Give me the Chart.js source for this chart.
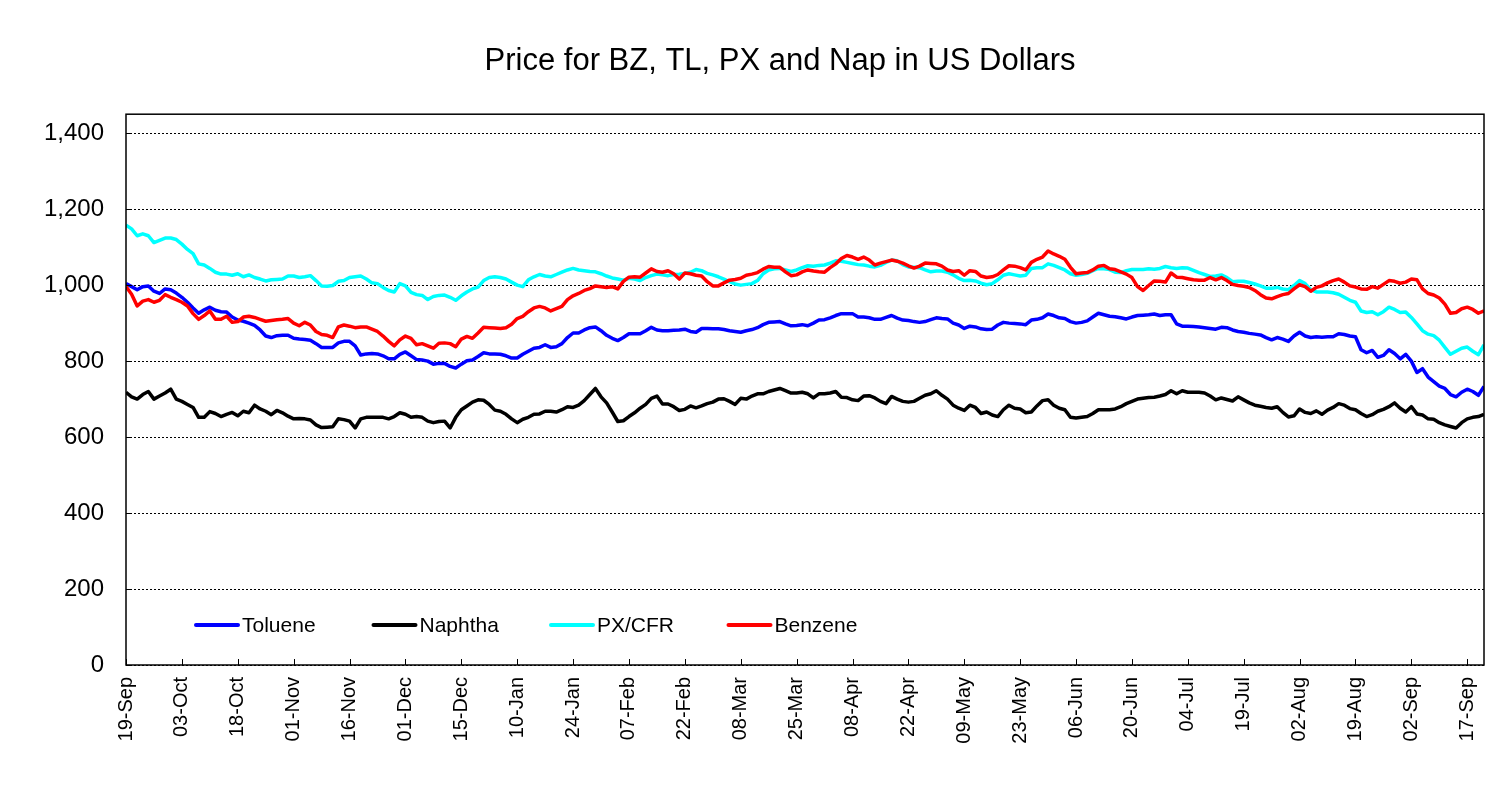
<!DOCTYPE html>
<html>
<head>
<meta charset="utf-8">
<title>Price for BZ, TL, PX and Nap in US Dollars</title>
<script src="https://cdn.jsdelivr.net/npm/chart.js@4.4.1/dist/chart.umd.min.js"></script>
<style>
    body { margin: 0; background: #ffffff; }
    #chartPrecos { display: block; }
</style>
</head>
<body>
<canvas id="chartPrecos" width="1511" height="802"></canvas>
<script>
// rótulos do eixo x, um a cada 10 pontos
const tickLabels = ['19-Sep', '03-Oct', '18-Oct', '01-Nov', '16-Nov', '01-Dec', '15-Dec', '10-Jan', '24-Jan',
    '07-Feb', '22-Feb', '08-Mar', '25-Mar', '08-Apr', '22-Apr', '09-May', '23-May', '06-Jun', '20-Jun',
    '04-Jul', '19-Jul', '02-Aug', '19-Aug', '02-Sep', '17-Sep'];

const seriesNames = ['Toluene', 'Naphtha', 'PX/CFR', 'Benzene'];

const toluene = [
    1004, 996, 988, 996, 998, 984, 978, 990, 988, 979,
    968, 955, 940, 926, 935, 942, 934, 930, 929, 916,
    908, 905, 900, 894, 882, 866, 862, 867, 868, 868,
    860, 858, 857, 855, 846, 836, 836, 836, 848, 852,
    852, 840, 816, 819, 820, 819, 814, 806, 806, 818,
    824, 814, 804, 803, 800, 792, 794, 794, 786, 782,
    792, 801, 803, 812, 822, 819, 819, 818, 814, 808,
    808, 818, 826, 834, 836, 843, 836, 838, 846, 862,
    874, 874, 882, 888, 890, 880, 868, 860, 854, 862,
    872, 872, 872, 880, 889, 882, 880, 880, 881, 882,
    884, 878, 876, 886, 886, 885, 885, 883, 880, 878,
    876, 880, 883, 888, 896, 902, 903, 904, 898, 893,
    894, 896, 893, 900, 908, 909, 914, 920, 925, 925,
    925, 916, 916, 914, 910, 910, 915, 920, 913, 908,
    907, 904, 902, 904, 909, 914, 912, 911, 900, 895,
    886, 892, 890, 885, 883, 884, 895, 902, 900, 899,
    898, 896, 908, 910, 914, 924, 920, 914, 912, 904,
    900, 902, 906, 916, 926, 922, 918, 917, 914, 911,
    916, 920, 921, 922, 924, 920, 922, 922, 898, 892,
    892, 891, 890, 888, 886, 884, 889, 888, 882, 878,
    876, 873, 871, 869, 862, 856, 862, 858, 852, 866,
    876, 866, 862, 864, 863, 864, 864, 872, 870, 866,
    864, 830, 822, 828, 810, 815, 830, 820, 806, 818,
    800, 770, 780, 758, 746, 734, 728, 712, 706, 718,
    726, 720, 710, 733
];

const naphtha = [
    718, 706, 700, 712, 720, 700, 708, 716, 726, 700,
    694, 686, 678, 652, 652, 667, 662, 654, 660, 665,
    656, 668, 664, 684, 674, 668, 659, 670, 664, 655,
    648, 649, 648, 645, 632, 625, 626, 627, 648, 646,
    642, 624, 648, 652, 652, 652, 652, 648, 654, 664,
    660, 652, 654, 652, 642, 638, 641, 642, 624, 652,
    672, 682, 692, 698, 697, 686, 671, 668, 660, 648,
    638, 647, 652, 660, 661, 668, 668, 666, 672, 680,
    678, 684, 696, 712, 728, 706, 690, 666, 641, 643,
    654, 664, 676, 686, 702, 708, 687, 687, 680, 670,
    673, 682, 677, 682, 688, 692, 700, 701, 694, 686,
    702, 700, 708, 714, 714, 720, 724, 728, 722, 716,
    716, 718, 714, 703, 714, 714, 716, 720, 705, 704,
    698, 696, 708, 709, 703, 694, 688, 707, 700, 694,
    692, 694, 702, 710, 714, 722, 710, 700, 684, 676,
    670, 684, 678, 662, 666, 658, 654, 672, 684, 676,
    674, 664, 666, 682, 696, 698, 684, 676, 672, 652,
    650, 652, 654, 662, 672, 672, 672, 674, 680, 688,
    694, 700, 702, 704, 705, 708, 712, 722, 714, 722,
    718, 718, 718, 716, 708, 698, 703, 699, 695, 706,
    698, 690, 684, 681, 678, 676, 680, 665, 653, 656,
    674, 665, 662, 669, 660, 671, 678, 688, 684, 675,
    672, 662, 654, 659, 668, 673, 680, 690, 676, 666,
    680, 661, 658, 648, 647, 638, 632, 628, 624, 638,
    648, 652, 654, 660
];

const pxCfr = [
    1158, 1148, 1130, 1135, 1130, 1112, 1118, 1124, 1124, 1120,
    1108, 1094, 1083, 1056, 1053, 1044, 1034, 1029, 1029, 1026,
    1030, 1022, 1027, 1020, 1016, 1011, 1014, 1015, 1016, 1024,
    1024, 1020, 1022, 1025, 1012, 998, 997, 999, 1010, 1012,
    1020, 1022, 1024, 1016, 1006, 1004, 994, 986, 982, 1004,
    998, 981, 975, 973, 962, 970, 973, 974, 968, 960,
    972, 982, 990, 995, 1012, 1020, 1022, 1020, 1016, 1008,
    1000, 996, 1014, 1022, 1028, 1024, 1022, 1028, 1034, 1040,
    1044, 1040, 1038, 1036, 1035, 1030, 1024, 1019, 1016, 1013,
    1018, 1016, 1012, 1020, 1025, 1029, 1027, 1025, 1028, 1029,
    1031, 1034, 1041, 1038, 1031, 1027, 1022, 1016, 1009, 1003,
    1000, 1002, 1004, 1012, 1030, 1040, 1043, 1044, 1040, 1036,
    1040, 1046, 1051, 1050, 1052, 1053, 1058, 1064, 1063, 1060,
    1057, 1054, 1053, 1050, 1048, 1052, 1060, 1066, 1064, 1054,
    1048, 1047, 1046, 1040, 1035, 1037, 1037, 1034, 1027, 1018,
    1012, 1013, 1011, 1005, 1001, 1004, 1014, 1026, 1030, 1027,
    1024, 1026, 1044, 1046, 1046, 1056, 1052, 1046, 1040, 1030,
    1026, 1028, 1031, 1038, 1044, 1043, 1041, 1034, 1033, 1038,
    1041, 1041, 1041, 1043, 1042, 1044, 1049, 1046, 1044, 1046,
    1045, 1039, 1033, 1028, 1023, 1024, 1027, 1020, 1009, 1010,
    1010, 1007, 1003, 998, 992, 992, 994, 990, 988, 999,
    1012, 1004, 988, 982, 982, 982, 980, 976, 968, 960,
    955, 932, 928, 930, 922, 930, 942, 936, 928, 929,
    915, 898, 880, 871, 867, 855, 836, 818, 826, 834,
    837, 826, 817, 843
];

const benzene = [
    996, 976, 945, 958, 962, 955, 960, 975, 968, 962,
    955, 945, 925, 910, 920, 932, 910, 910, 918, 902,
    904, 916, 918, 915, 910, 905, 907, 909, 910, 912,
    900, 893, 902, 895, 878, 870, 868, 862, 890, 895,
    892, 888, 890, 890, 884, 878, 866, 852, 840, 856,
    866, 860, 843, 846, 840, 834, 847, 848, 846, 838,
    858, 865, 860, 874, 889, 888, 887, 886, 888, 897,
    912, 918, 930, 940, 944, 940, 932, 938, 944, 962,
    972, 978, 986, 991, 998, 996, 994, 996, 990, 1010,
    1021, 1022, 1021, 1032, 1043, 1036, 1034, 1038, 1030, 1016,
    1032, 1030, 1026, 1024, 1009, 998, 998, 1006, 1013, 1015,
    1018, 1026, 1029, 1033, 1042, 1049, 1047, 1047, 1035, 1025,
    1027, 1035, 1040, 1037, 1035, 1034, 1046, 1056, 1070, 1078,
    1074, 1068, 1074, 1066, 1053, 1058, 1062, 1066, 1063, 1058,
    1051, 1045, 1050, 1058, 1057, 1056, 1050, 1040, 1036, 1038,
    1026, 1038, 1036, 1024, 1020, 1022, 1028, 1040, 1051, 1050,
    1046, 1040, 1060, 1068, 1074, 1090, 1082, 1076, 1068, 1047,
    1030, 1032, 1033, 1040, 1050, 1052, 1043, 1041, 1035, 1029,
    1020, 996, 986, 999, 1011, 1010, 1008, 1032, 1021, 1020,
    1017, 1014, 1013, 1013, 1020, 1014, 1020, 1012, 1002, 999,
    997, 994, 986, 975, 966, 964, 970, 975, 978, 990,
    1001, 996, 984, 994, 998, 1006, 1012, 1016, 1008, 998,
    995, 990, 989, 996, 992, 1002, 1012, 1010, 1005, 1008,
    1016, 1014, 990, 978, 974, 966, 950, 926, 928, 938,
    942, 936, 926, 932
];

const seriesColors = ['#0000ff', '#000000', '#00ffff', '#ff0000'];
const fontFamily = "Arial, 'Liberation Sans', sans-serif";

// moldura do gráfico, marcas internas dos eixos e legenda dentro da área
const molduraPlugin = {
    id: 'moldura',
    afterLayout(chart) {
        // centralizar o título como no original
        if (chart.titleBlock) {
            chart.titleBlock.left = 76;
        }
    },
    afterDraw(chart) {
        const ctx = chart.ctx;
        const area = chart.chartArea;
        const xScale = chart.scales.x;
        const yScale = chart.scales.y;
        ctx.save();
        ctx.strokeStyle = '#000';
        ctx.lineWidth = 1.5;
        ctx.setLineDash([]);
        ctx.strokeRect(area.left, area.top, area.right - area.left, area.bottom - area.top);

        ctx.lineWidth = 1;
        xScale.ticks.forEach(t => {
            const px = Math.round(xScale.getPixelForValue(t.value)) + 0.5;
            ctx.beginPath();
            ctx.moveTo(px, area.bottom);
            ctx.lineTo(px, area.bottom - 6);
            ctx.stroke();
        });
        yScale.ticks.forEach(t => {
            const py = Math.round(yScale.getPixelForValue(t.value)) + 0.5;
            ctx.beginPath();
            ctx.moveTo(area.left, py);
            ctx.lineTo(area.left + 6, py);
            ctx.stroke();
        });

        // legenda
        const y = area.bottom - 40;
        ctx.font = '21px ' + fontFamily;
        ctx.textBaseline = 'middle';
        ctx.textAlign = 'left';
        chart.data.datasets.forEach((ds, i) => {
            const x0 = area.left + 70 + i * 177.5;
            ctx.strokeStyle = ds.borderColor;
            ctx.lineWidth = 4;
            ctx.lineCap = 'round';
            ctx.beginPath();
            ctx.moveTo(x0, y);
            ctx.lineTo(x0 + 42, y);
            ctx.stroke();
            ctx.fillStyle = '#000';
            ctx.fillText(ds.label, x0 + 46, y + 1);
        });
        ctx.restore();
    }
};

function criarGrafico() {
    const ctx = document.getElementById('chartPrecos');
    const valores = [toluene, naphtha, pxCfr, benzene];

    const datasets = valores.map((serie, i) => ({
        label: seriesNames[i],
        data: serie,
        borderColor: seriesColors[i],
        backgroundColor: seriesColors[i],
        borderWidth: 3.5,
        pointRadius: 0,
        tension: 0,
        fill: false,
        borderJoinStyle: 'round',
        order: 3 - i
    }));

    new Chart(ctx, {
        type: 'line',
        data: {
            labels: toluene.map((_, i) => i),
            datasets: datasets
        },
        options: {
            responsive: false,
            animation: false,
            devicePixelRatio: 1,
            layout: {
                padding: { left: 30, right: 27, top: 0, bottom: 0 }
            },
            scales: {
                x: {
                    type: 'linear',
                    min: 0,
                    max: toluene.length - 1,
                    grid: { display: false, drawTicks: false },
                    border: { display: false },
                    afterFit: scale => { scale.height = 137; },
                    ticks: {
                        stepSize: 10,
                        includeBounds: false,
                        autoSkip: false,
                        maxRotation: 90,
                        minRotation: 90,
                        padding: 12,
                        color: '#000',
                        font: { family: fontFamily, size: 20 },
                        callback: value => tickLabels[value / 10] || ''
                    }
                },
                y: {
                    min: 0,
                    max: 1450,
                    grid: {
                        color: '#000',
                        lineWidth: 1,
                        drawTicks: false
                    },
                    border: { display: false, dash: [2, 2] },
                    afterFit: scale => { scale.width = 96; },
                    ticks: {
                        stepSize: 200,
                        includeBounds: false,
                        padding: 22,
                        color: '#000',
                        font: { family: fontFamily, size: 24 },
                        callback: value => value.toLocaleString('en-US')
                    }
                }
            },
            plugins: {
                legend: { display: false },
                tooltip: { enabled: false },
                title: {
                    display: true,
                    text: 'Price for BZ, TL, PX and Nap in US Dollars',
                    color: '#000',
                    font: { family: fontFamily, size: 31, weight: 'normal' },
                    padding: { top: 43, bottom: 34 }
                }
            }
        },
        plugins: [molduraPlugin]
    });
}

document.addEventListener('DOMContentLoaded', criarGrafico);
</script>
</body>
</html>
